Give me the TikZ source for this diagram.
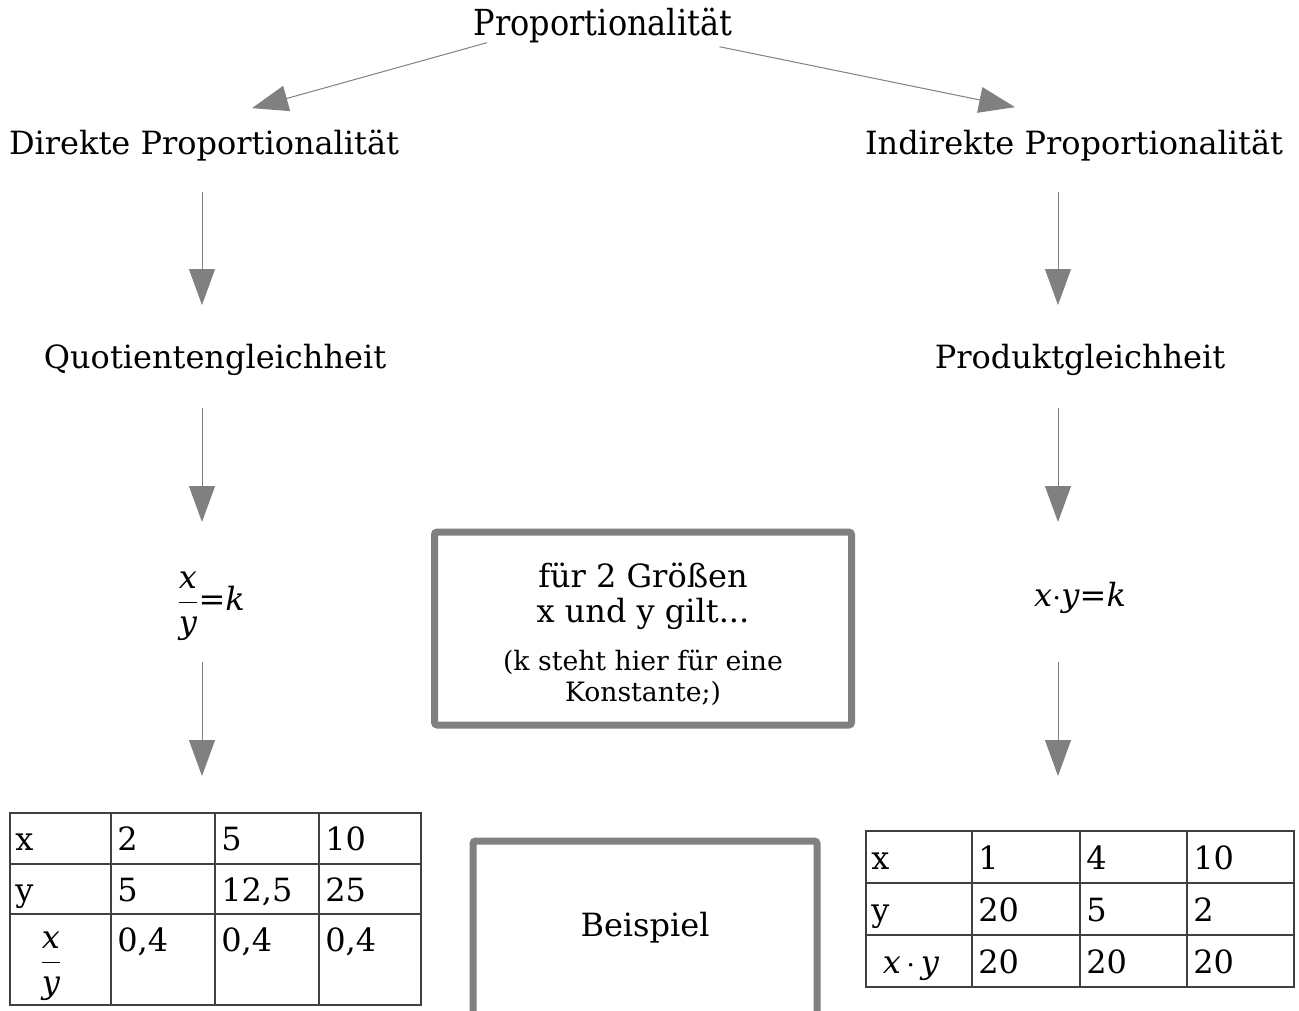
\documentclass[tikz,border=0pt]{standalone}
\usepackage{fontspec}
\usepackage{graphicx}
\setmainfont{DejaVu Serif}
\usetikzlibrary{arrows.meta}

\tikzset{
    txt/.style={inner sep=0pt, font=\fontsize{24}{26.25}\selectfont},
    klein/.style={inner sep=0pt, align=center, font=\fontsize{20}{23.25}\selectfont},
    zelle/.style={txt, anchor=base west},
    pfeil/.style={draw=gray, line width=0.75pt, -{Triangle[length=27pt,width=19.5pt]}},
    rahmen/.style={draw=gray, line width=5.25pt, rounded corners=2pt},
    tabelle/.style={draw=black!75, line width=1pt, inner sep=0pt}
}
\newcommand{\xdurchy}{$\displaystyle\frac{\textit{x}\rule[-3pt]{0pt}{0pt}}{\rule{0pt}{20pt}\textit{y}}$}

\begin{document}
\begin{tikzpicture}[x=0.75pt, y=-0.75pt]
    \useasboundingbox (0,0) rectangle (1299,1010);
    \coordinate (lachse) at (202,0);
    \coordinate (rachse) at (1058,0);

    \node[txt] (titel) at (603,25) {\scalebox{1}[1.12]{Proportionalität}};
    \node[txt] (direkt) at (204,146) {Direkte Proportionalität};
    \node[txt] (indirekt) at (1074,146) {Indirekte Proportionalität};
    \node[txt] (quot) at (215,360) {Quotientengleichheit};
    \node[txt] (prod) at (1080,360) {Produktgleichheit};
    \node[txt] (lformel) at (211,606) {\xdurchy=\textit{k}};
    \node[txt] (rformel) at (1080,598) {\textit{x}$\cdot$\textit{y}=\textit{k}};

    \draw[pfeil] ([xshift=10pt,yshift=0pt]titel.south west) -- ([xshift=36pt,yshift=16.5pt]direkt.north);
    \draw[pfeil] ([xshift=-9.75pt,yshift=-3pt]titel.south east) -- ([xshift=-44.25pt,yshift=17.25pt]indirekt.north);

    \draw[pfeil, shorten <=34.5pt, shorten >=41.25pt] (lachse |- direkt) -- (lachse |- quot);
    \draw[pfeil, shorten <=36pt, shorten >=63pt] (lachse |- quot) -- (lachse |- lformel);
    \draw[pfeil, shorten <=34.5pt, shorten >=41.25pt] (rachse |- indirekt) -- (rachse |- prod);
    \draw[pfeil, shorten <=36pt, shorten >=57pt] (rachse |- prod) -- (rachse |- rformel);

    % Hinweis in der Mitte
    \node[rahmen, minimum width=312.75pt, minimum height=144.75pt] (hinweis) at (643,628.5) {};
    \node[txt, align=center] (groessen) at (643,596) {für 2 Größen\\ x und y gilt...};
    \node[klein] (konstante) at (643,678) {(k steht hier für eine\\Konstante;)};

    \node[rahmen, txt, minimum width=258pt, minimum height=130.5pt] (beispiel) at (645,928) {Beispiel};

    % linke Tabelle
    \node[tabelle, draw, minimum width=308.25pt, minimum height=144pt] (ltab) at (215.5,909) {};
    \draw[tabelle] (111,813) -- (111,1005) (215,813) -- (215,1005) (319,813) -- (319,1005);
    \draw[tabelle] (10,864) -- (421,864) (10,914) -- (421,914);
    \node[zelle] (lx) at (15,850) {x};
    \node[zelle] (lx1) at (117,850) {2};
    \node[zelle] (lx2) at (221,850) {5};
    \node[zelle] (lx3) at (325,850) {10};
    \node[zelle] (ly) at (15,901) {y};
    \node[zelle] (ly1) at (117,901) {5};
    \node[zelle] (ly2) at (221,901) {12,5};
    \node[zelle] (ly3) at (325,901) {25};
    \node[txt] (lq) at (51,966) {\xdurchy};
    \node[zelle] (lq1) at (117,951) {0,4};
    \node[zelle] (lq2) at (221,951) {0,4};
    \node[zelle] (lq3) at (325,951) {0,4};

    % rechte Tabelle
    \node[tabelle, draw, minimum width=321pt, minimum height=117pt] (rtab) at (1080,909) {};
    \draw[tabelle] (972,831) -- (972,987) (1080,831) -- (1080,987) (1187,831) -- (1187,987);
    \draw[tabelle] (866,883) -- (1294,883) (866,935) -- (1294,935);
    \node[zelle] (rx) at (871,869) {x};
    \node[zelle] (rx1) at (978,869) {1};
    \node[zelle] (rx2) at (1086,869) {4};
    \node[zelle] (rx3) at (1193,869) {10};
    \node[zelle] (ry) at (871,921) {y};
    \node[zelle] (ry1) at (978,921) {20};
    \node[zelle] (ry2) at (1086,921) {5};
    \node[zelle] (ry3) at (1193,921) {2};
    \node[txt, anchor=base] (rp) at (911,973) {\textit{x}\,$\cdot$\,\textit{y}};
    \node[zelle] (rp1) at (978,973) {20};
    \node[zelle] (rp2) at (1086,973) {20};
    \node[zelle] (rp3) at (1193,973) {20};

    \draw[pfeil, shorten <=42pt, shorten >=99.75pt] (lachse |- lformel) -- (lachse |- ltab);
    \draw[pfeil, shorten <=48pt, shorten >=99.75pt] (rachse |- rformel) -- (rachse |- rtab);
\end{tikzpicture}
\end{document}
